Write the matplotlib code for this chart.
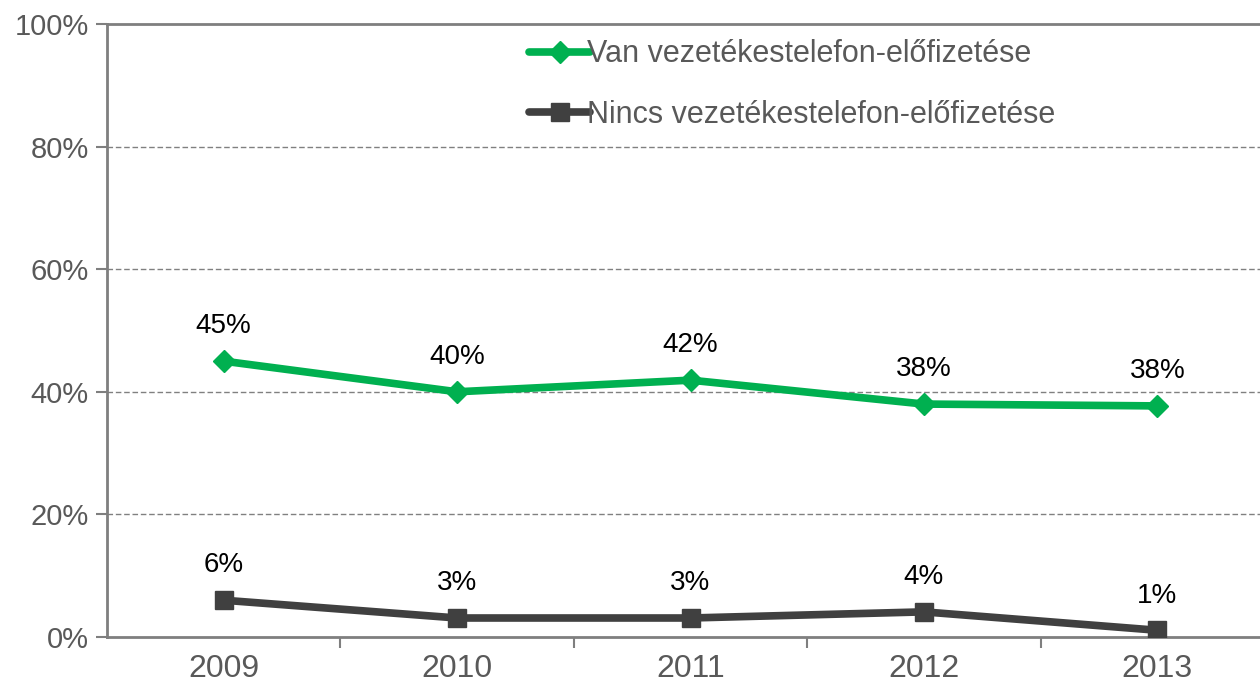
import matplotlib
matplotlib.use("Agg")
import matplotlib.pyplot as plt
from matplotlib.ticker import FuncFormatter, FixedLocator

years = ["2009", "2010", "2011", "2012", "2013"]
van = [45.0, 40.0, 41.9, 38.0, 37.7]
nincs = [6.0, 3.1, 3.1, 4.1, 1.1]
van_labels = ["45%", "40%", "42%", "38%", "38%"]
nincs_labels = ["6%", "3%", "3%", "4%", "1%"]
series_names = ["Van vezetékestelefon-előfizetése", "Nincs vezetékestelefon-előfizetése"]

plt.rcParams['font.family'] = ['Liberation Sans', 'DejaVu Sans']

fig = plt.figure(figsize=(12.6, 6.9), dpi=100)
ax = fig.add_axes([107/1260, 1 - 637/690, (1260-107)/1260, (637-24)/690])

green = "#00B050"
dark = "#404040"
axis_col = "#7F7F7F"

x = list(range(len(years)))
ax.plot(x, van, color=green, lw=5.5, marker="D", ms=11, label=series_names[0],
        solid_capstyle="round", zorder=3)
ax.plot(x, nincs, color=dark, lw=5.5, marker="s", ms=13, label=series_names[1],
        solid_capstyle="round", zorder=3)

for xi, v, t in zip(x, van, van_labels):
    ax.annotate(t, (xi, v), xytext=(0, 25), textcoords="offset points",
                ha="center", va="center", fontsize=20, color="black")
for xi, v, t in zip(x, nincs, nincs_labels):
    ax.annotate(t, (xi, v), xytext=(0, 25), textcoords="offset points",
                ha="center", va="center", fontsize=20, color="black")

ax.set_ylim(0, 100)
ax.set_xlim(-0.5, 4.44)
ax.set_yticks([0, 20, 40, 60, 80, 100])
ax.yaxis.set_major_formatter(FuncFormatter(lambda v, p: f"{int(v)}%"))
ax.set_xticks(x)
ax.set_xticklabels(years)
ax.xaxis.set_minor_locator(FixedLocator([0.5, 1.5, 2.5, 3.5]))
ax.tick_params(axis="x", which="major", length=0, pad=12, labelsize=23, labelcolor="#595959")
ax.tick_params(axis="x", which="minor", length=8, width=1.5, color=axis_col, direction="out")
ax.tick_params(axis="y", length=8, width=1.5, color=axis_col, labelsize=21, labelcolor="#595959", pad=5)

for yv in [20, 40, 60, 80]:
    ax.axhline(yv, color="#808080", lw=1, ls=(0, (4, 2)), zorder=1)
ax.axhline(100, color=axis_col, lw=2, zorder=1, clip_on=False)

for s in ["top", "right"]:
    ax.spines[s].set_visible(False)
for s in ["left", "bottom"]:
    ax.spines[s].set_color(axis_col)
    ax.spines[s].set_linewidth(2)

leg = ax.legend(loc="upper left", bbox_to_anchor=(0.3555, 0.995), frameon=False,
                fontsize=22, labelcolor="#595959", handlelength=2.0,
                handletextpad=-0.1, labelspacing=1.0, borderaxespad=0)

fig.savefig("out.png", dpi=100)
